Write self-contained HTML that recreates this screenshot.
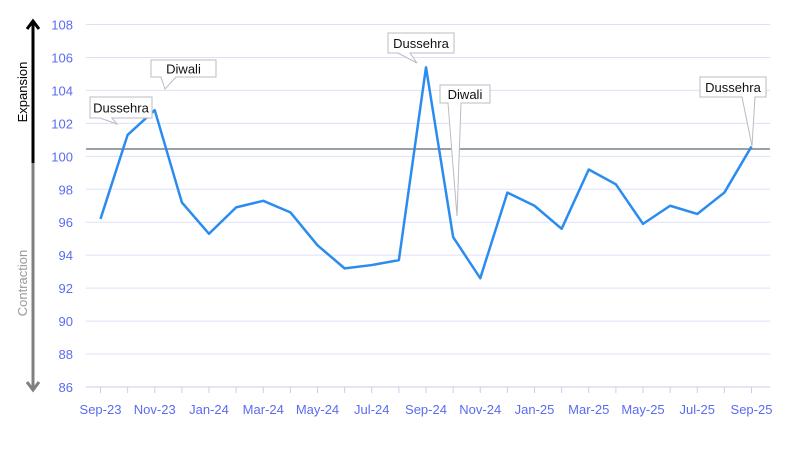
<!DOCTYPE html>
<html><head><meta charset="utf-8"><style>
body{margin:0;background:#fff;}
svg{display:block;font-family:"Liberation Sans",sans-serif;}
</style></head><body>
<svg id="chart" width="800" height="450">
<g id="grid"></g><g id="ylabels"></g><g id="xlabels"></g>
<line x1="86" x2="770" y1="149" y2="149" stroke="#9aa0a6" stroke-width="2"/>
<polyline id="series" fill="none" stroke="#2b8cf0" stroke-width="2.5" stroke-linejoin="round"/>
<g>
<line x1="33" y1="22" x2="33" y2="163" stroke="#000" stroke-width="3"/>
<polyline points="27,29 33,21 39,29" fill="none" stroke="#000" stroke-width="3"/>
<line x1="33" y1="163" x2="33" y2="389" stroke="#808080" stroke-width="3"/>
<polyline points="27,382 33,390 39,382" fill="none" stroke="#808080" stroke-width="3"/>
<text transform="translate(27,92) rotate(-90)" text-anchor="middle" font-size="13" fill="#000">Expansion</text>
<text transform="translate(27,283) rotate(-90)" text-anchor="middle" font-size="13" fill="#999">Contraction</text>
</g>
<g id="callouts" font-size="13" fill="#111"></g>
</svg>
<script>
const categories=["Sep-23","Oct-23","Nov-23","Dec-23","Jan-24","Feb-24","Mar-24","Apr-24","May-24","Jun-24","Jul-24","Aug-24","Sep-24","Oct-24","Nov-24","Dec-24","Jan-25","Feb-25","Mar-25","Apr-25","May-25","Jun-25","Jul-25","Aug-25","Sep-25"];
const values=[96.2,101.3,102.8,97.2,95.3,96.9,97.3,96.6,94.6,93.2,93.4,93.7,105.4,95.1,92.6,97.8,97.0,95.6,99.2,98.3,95.9,97.0,96.5,97.8,100.6];
const yTicks=[86,88,90,92,94,96,98,100,102,104,106,108];
const NS="http://www.w3.org/2000/svg";
const x=i=>100.5+i*(751.5-100.5)/24;
const y=v=>387-(v-86)*(387-24.5)/22;
const grid=document.getElementById('grid'),yl=document.getElementById('ylabels'),xl=document.getElementById('xlabels');
yTicks.forEach(t=>{
 const l=document.createElementNS(NS,'line');
 l.setAttribute('x1',86);l.setAttribute('x2',770);l.setAttribute('y1',y(t));l.setAttribute('y2',y(t));
 l.setAttribute('stroke',t===86?'#c8ccf0':'#dde0fa');l.setAttribute('stroke-width',1);
 
 
 grid.appendChild(l);
 const tx=document.createElementNS(NS,'text');
 tx.setAttribute('x',73);tx.setAttribute('y',y(t)+5);tx.setAttribute('text-anchor','end');
 tx.setAttribute('font-size',13);tx.setAttribute('fill','#5a6cf0');tx.textContent=t;
 
 
 yl.appendChild(tx);
});
categories.forEach((c,i)=>{
 const tk=document.createElementNS(NS,'line');
 tk.setAttribute('x1',x(i));tk.setAttribute('x2',x(i));tk.setAttribute('y1',387);tk.setAttribute('y2',393);
 tk.setAttribute('stroke','#c8ccf0');
 
 
 grid.appendChild(tk);
 if(i%2===0){
  const tx=document.createElementNS(NS,'text');
  tx.setAttribute('x',x(i));tx.setAttribute('y',414);tx.setAttribute('text-anchor','middle');
  tx.setAttribute('font-size',13);tx.setAttribute('fill','#5a6cf0');tx.textContent=c;
  
  
  xl.appendChild(tx);
 }
});
document.getElementById('series').setAttribute('points',values.map((v,i)=>x(i)+','+y(v)).join(' '));
const callouts=[
 {t:"Dussehra",bx:90,by:97,w:62,h:21,p:[100,117,112]},
 {t:"Diwali",bx:151,by:60,w:65,h:17,p:[161,165,176]},
 {t:"Dussehra",bx:388,by:33,w:66,h:20,p:[398,417,410]},
 {t:"Diwali",bx:440,by:85,w:50,h:18,p:[448,457,461]},
 {t:"Dussehra",bx:700,by:77,w:66,h:20,p:[742,752,755]}
];
const tipY=[124,89,63,216,146];
const cg=document.getElementById('callouts');
callouts.forEach((c,k)=>{
 const g=document.createElementNS(NS,'g');
 
 
 const b=c.by+c.h;
 const p=document.createElementNS(NS,'path');
 p.setAttribute('d',`M${c.bx},${c.by}H${c.bx+c.w}V${b}H${c.p[2]}L${c.p[1]},${tipY[k]}L${c.p[0]},${b}H${c.bx}Z`);
 p.setAttribute('fill','#fff');p.setAttribute('stroke','#b8bcc4');p.setAttribute('stroke-width',1);
 g.appendChild(p);
 const t=document.createElementNS(NS,'text');
 t.setAttribute('x',c.bx+c.w/2);t.setAttribute('y',c.by+c.h/2+5);t.setAttribute('text-anchor','middle');
 t.textContent=c.t;
 g.appendChild(t);
 cg.appendChild(g);
});
</script>
</body></html>
